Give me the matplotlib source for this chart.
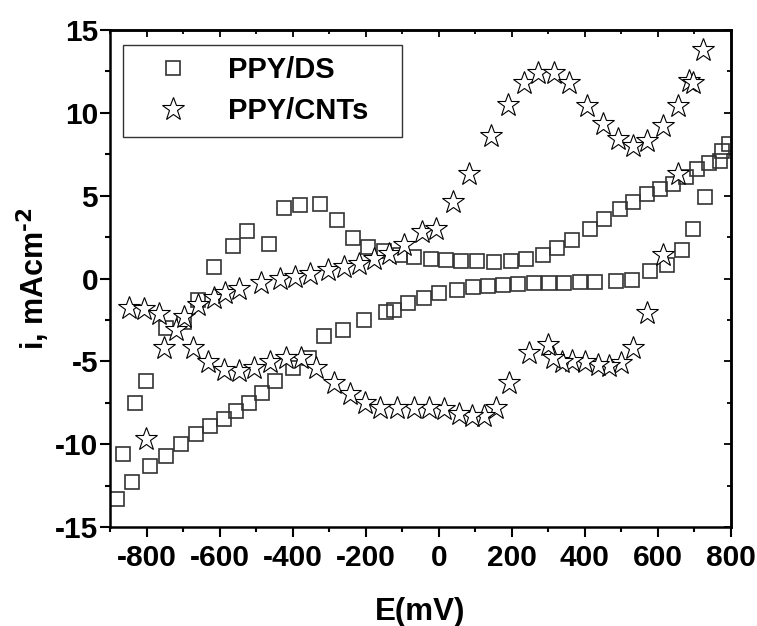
import matplotlib
matplotlib.use("Agg")
import matplotlib.pyplot as plt
from matplotlib.ticker import MultipleLocator

plt.rcParams['font.family'] = ['Liberation Sans', 'DejaVu Sans']
plt.rcParams['font.weight'] = 'bold'
plt.rcParams['mathtext.default'] = 'bf'
plt.rcParams['axes.unicode_minus'] = False

# PPY/DS (squares)
ds_E = [-881, -840, -790, -746, -706, -665, -626, -588, -555, -520, -484, -449,
        -399, -356, -315, -262, -205, -145, -123, -85, -41, 0, 49, 93, 134, 175,
        216, 260, 301, 342, 386, 427, 484, 528, 577, 624, 665, 697, 730,
        795, 775, 770, 740, 708, 676, 640, 605, 571, 533, 495, 451, 413, 366,
        325, 284, 238, 197, 150, 104, 60, 19, -22, -68, -107, -150, -194, -235,
        -279, -326, -380, -424, -465, -525, -563, -615, -659, -697, -746, -801,
        -831, -864]
ds_i = [-13.3, -12.3, -11.3, -10.7, -10.0, -9.4, -8.9, -8.5, -8.0, -7.5, -6.9, -6.2,
        -5.4, -4.8, -3.5, -3.1, -2.5, -2.0, -1.9, -1.5, -1.2, -0.9, -0.72, -0.54, -0.48, -0.42,
        -0.36, -0.30, -0.30, -0.30, -0.24, -0.24, -0.18, -0.12, 0.48, 0.84, 1.7, 3.0, 4.9,
        8.1, 7.7, 7.1, 7.0, 6.6, 6.1, 5.7, 5.4, 5.1, 4.6, 4.2, 3.6, 3.0, 2.35,
        1.87, 1.39, 1.2, 1.03, 0.97, 1.03, 1.03, 1.09, 1.15, 1.27, 1.39, 1.69, 1.93, 2.47,
        3.56, 4.47, 4.41, 4.28, 2.1, 2.84, 1.99, 0.72, -1.27, -2.65, -3.0, -6.2,
        -7.5, -10.6]

# PPY/CNTs (stars)
cnt_E = [-848, -807, -766, -719, -697, -659, -615, -585, -547, -487, -435, -394,
         -353, -304, -260, -219, -178, -137, -96, -45, -8, 38, 82, 142, 189, 232,
         271, 315, 356, 405, 449, 492, 533, 571, 615, 654, 684, 697, 722,
         656, 615, 571, 533, 500, 465, 435, 399, 366, 336, 312, 298, 246, 191,
         156, 123, 90, 55, 14, -27, -68, -115, -161, -202, -243, -287, -336, -377,
         -418, -462, -506, -547, -588, -632, -673, -752, -801]
cnt_i = [-1.8, -1.87, -2.17, -3.08, -2.35, -1.57, -1.15, -0.9, -0.66, -0.3, 0.0, 0.12,
         0.30, 0.54, 0.72, 0.9, 1.2, 1.5, 2.05, 2.8, 3.0, 4.6, 6.3, 8.6, 10.5, 11.8,
         12.4, 12.4, 11.8, 10.4, 9.3, 8.4, 8.0, 8.3, 9.2, 10.4, 11.9, 11.8, 13.8,
         6.3, 1.4, -2.1, -4.2, -5.1, -5.3, -5.25, -5.07, -5.0, -5.07, -4.8, -4.0, -4.5, -6.3,
         -7.8, -8.3, -8.3, -8.2, -7.9, -7.8, -7.8, -7.8, -7.8, -7.5, -7.0, -6.3, -5.4, -4.8,
         -4.8, -5.07, -5.4, -5.6, -5.55, -5.07, -4.2, -4.2, -9.7]

x_ticks = [-800, -600, -400, -200, 0, 200, 400, 600, 800]
y_ticks = [-15, -10, -5, 0, 5, 10, 15]

fig = plt.figure(figsize=(7.57, 6.26), dpi=100)
ax = fig.add_axes([110/757, 1-527/626, 621/757, 497/626])

ax.plot(ds_E, ds_i, linestyle='none', marker='s', markersize=10.5,
        markerfacecolor='none', markeredgecolor='#333333', markeredgewidth=1.2,
        label='PPY/DS')
ax.plot(cnt_E, cnt_i, linestyle='none', marker='*', markersize=17,
        markerfacecolor='white', markeredgecolor='black', markeredgewidth=0.8,
        label='PPY/CNTs')

ax.set_xlim(-900, 800)
ax.set_ylim(-15, 15)
ax.set_xticks(x_ticks)
ax.set_yticks(y_ticks)
ax.xaxis.set_minor_locator(MultipleLocator(100))
ax.yaxis.set_minor_locator(MultipleLocator(2.5))
ax.tick_params(which='major', direction='out', length=7, width=1.5,
               labelsize=21.5, pad=5)
ax.tick_params(axis='y', which='major', pad=1.5)
ax.tick_params(which='minor', direction='out', length=3.5, width=1.5)
for lab in ax.get_xticklabels() + ax.get_yticklabels():
    lab.set_fontweight('bold')

for s in ax.spines.values():
    s.set_linewidth(1.8)

secx = ax.secondary_xaxis('top')
secx.set_xticks(x_ticks)
secx.xaxis.set_minor_locator(MultipleLocator(100))
secx.tick_params(which='major', direction='in', length=5, width=1.3, labeltop=False)
secx.tick_params(which='minor', direction='in', length=3, width=1.3)
secx.spines['top'].set_linewidth(1.8)

secy = ax.secondary_yaxis('right')
secy.set_yticks(y_ticks)
secy.yaxis.set_minor_locator(MultipleLocator(2.5))
secy.tick_params(which='major', direction='in', length=5, width=1.3, labelright=False)
secy.tick_params(which='minor', direction='in', length=3, width=1.3)
secy.spines['right'].set_linewidth(1.8)

ax.set_xlabel('E(mV)', fontsize=22.5, fontweight='bold', labelpad=18)
ax.set_ylabel(r'i, mAcm$^{\text{-}2}$', fontsize=22, fontweight='bold', labelpad=2)

leg = ax.legend(loc='lower left', bbox_to_anchor=(13/621, (527-137)/497, 279/621, 102/497),
                mode='expand', fontsize=21, frameon=True, fancybox=False,
                borderpad=0.4, labelspacing=0.45, handlelength=2.6, handletextpad=0.6,
                borderaxespad=0)
leg.get_frame().set_edgecolor('black')
leg.get_frame().set_linewidth(1.0)
for t in leg.get_texts():
    t.set_fontweight('bold')

fig.savefig('out.png', dpi=100)
